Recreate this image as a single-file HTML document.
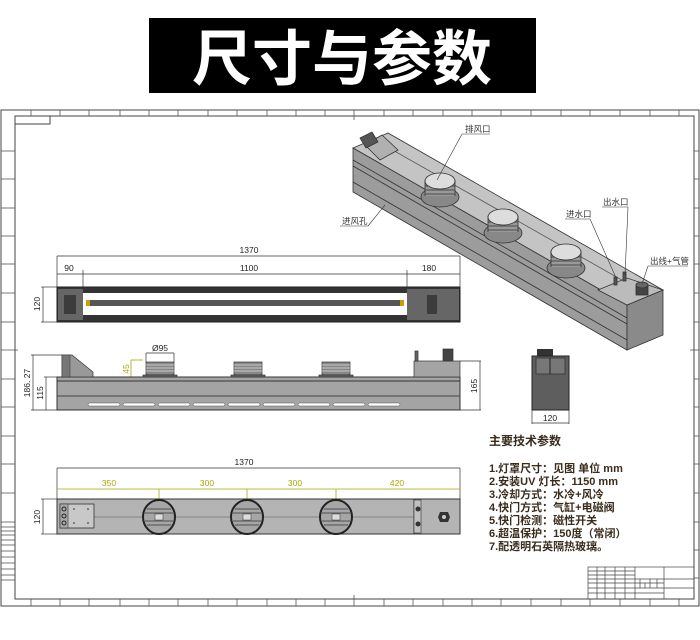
<!DOCTYPE html>
<html><head><meta charset="utf-8"><style>
html,body{margin:0;padding:0;background:#fff;width:700px;height:640px;overflow:hidden}
svg{display:block}
text{font-family:"Liberation Sans","Noto Sans CJK SC",sans-serif}
.d{font-size:8.5px;fill:#222}
.cn{font-family:"Liberation Sans","Noto Sans CJK SC",sans-serif;font-size:11px;font-weight:bold;fill:#3a2c1c}
.ln{stroke:#333;stroke-width:0.7;fill:none}
.yl{stroke:#a8a800;stroke-width:0.8;fill:none}
</style></head><body>
<svg width="700" height="640" viewBox="0 0 700 640" xmlns="http://www.w3.org/2000/svg">
<rect x="149" y="18" width="387" height="75" fill="#000"/>
<text x="342" y="80" text-anchor="middle" font-size="60" font-weight="bold" fill="#fff" style="font-family:'Noto Sans CJK SC',sans-serif">尺寸与参数</text>

<g stroke="#444" fill="none" stroke-width="1">
<rect x="1" y="110" width="698" height="496"/>
<rect x="15" y="116" width="679" height="483"/>
<rect x="15" y="116" width="35" height="8"/>
</g>
<g stroke="#555" stroke-width="0.8">
<line x1="31" y1="110" x2="31" y2="116"/><line x1="60" y1="110" x2="60" y2="116"/><line x1="89" y1="110" x2="89" y2="116"/><line x1="120" y1="110" x2="120" y2="116"/><line x1="149" y1="110" x2="149" y2="116"/><line x1="178" y1="110" x2="178" y2="116"/><line x1="208" y1="110" x2="208" y2="116"/><line x1="237" y1="110" x2="237" y2="116"/><line x1="267" y1="110" x2="267" y2="116"/><line x1="296" y1="110" x2="296" y2="116"/><line x1="325" y1="110" x2="325" y2="116"/><line x1="354" y1="110" x2="354" y2="120"/><line x1="384" y1="110" x2="384" y2="116"/><line x1="413" y1="110" x2="413" y2="116"/><line x1="443" y1="110" x2="443" y2="116"/><line x1="472" y1="110" x2="472" y2="116"/><line x1="501" y1="110" x2="501" y2="116"/><line x1="531" y1="110" x2="531" y2="116"/><line x1="561" y1="110" x2="561" y2="116"/><line x1="590" y1="110" x2="590" y2="116"/><line x1="620" y1="110" x2="620" y2="116"/><line x1="650" y1="110" x2="650" y2="116"/><line x1="679" y1="110" x2="679" y2="116"/>
<line x1="31" y1="599" x2="31" y2="606"/><line x1="60" y1="599" x2="60" y2="606"/><line x1="89" y1="599" x2="89" y2="606"/><line x1="120" y1="599" x2="120" y2="606"/><line x1="149" y1="599" x2="149" y2="606"/><line x1="178" y1="599" x2="178" y2="606"/><line x1="208" y1="599" x2="208" y2="606"/><line x1="237" y1="599" x2="237" y2="606"/><line x1="267" y1="599" x2="267" y2="606"/><line x1="296" y1="599" x2="296" y2="606"/><line x1="325" y1="599" x2="325" y2="606"/><line x1="354" y1="595" x2="354" y2="606"/><line x1="384" y1="599" x2="384" y2="606"/><line x1="413" y1="599" x2="413" y2="606"/><line x1="443" y1="599" x2="443" y2="606"/><line x1="472" y1="599" x2="472" y2="606"/><line x1="501" y1="599" x2="501" y2="606"/><line x1="531" y1="599" x2="531" y2="606"/><line x1="561" y1="599" x2="561" y2="606"/><line x1="590" y1="599" x2="590" y2="606"/><line x1="620" y1="599" x2="620" y2="606"/><line x1="650" y1="599" x2="650" y2="606"/><line x1="679" y1="599" x2="679" y2="606"/>
<line x1="1" y1="151" x2="15" y2="151"/><line x1="1" y1="179" x2="15" y2="179"/><line x1="1" y1="208" x2="15" y2="208"/><line x1="1" y1="236" x2="15" y2="236"/><line x1="1" y1="264" x2="15" y2="264"/><line x1="1" y1="293" x2="15" y2="293"/><line x1="1" y1="322" x2="15" y2="322"/><line x1="1" y1="350" x2="18" y2="350"/><line x1="1" y1="379" x2="15" y2="379"/><line x1="1" y1="407" x2="15" y2="407"/><line x1="1" y1="436" x2="15" y2="436"/><line x1="1" y1="464" x2="15" y2="464"/><line x1="1" y1="493" x2="15" y2="493"/>
<line x1="1" y1="522" x2="15" y2="522"/><line x1="1" y1="527" x2="15" y2="527"/><line x1="1" y1="531" x2="15" y2="531"/><line x1="1" y1="535" x2="15" y2="535"/><line x1="1" y1="540" x2="15" y2="540"/><line x1="1" y1="545" x2="15" y2="545"/><line x1="1" y1="551" x2="15" y2="551"/><line x1="1" y1="557" x2="15" y2="557"/><line x1="1" y1="563" x2="15" y2="563"/><line x1="1" y1="569" x2="15" y2="569"/><line x1="1" y1="575" x2="15" y2="575"/><line x1="1" y1="580" x2="15" y2="580"/>
<line x1="694" y1="151" x2="699" y2="151"/><line x1="694" y1="179" x2="699" y2="179"/><line x1="694" y1="208" x2="699" y2="208"/><line x1="694" y1="236" x2="699" y2="236"/><line x1="694" y1="264" x2="699" y2="264"/><line x1="694" y1="293" x2="699" y2="293"/><line x1="694" y1="322" x2="699" y2="322"/><line x1="690" y1="350" x2="699" y2="350"/><line x1="694" y1="379" x2="699" y2="379"/><line x1="694" y1="407" x2="699" y2="407"/><line x1="694" y1="436" x2="699" y2="436"/><line x1="694" y1="464" x2="699" y2="464"/><line x1="694" y1="493" x2="699" y2="493"/><line x1="694" y1="522" x2="699" y2="522"/><line x1="694" y1="550" x2="699" y2="550"/><line x1="694" y1="578" x2="699" y2="578"/>
</g>

<g stroke="#444" stroke-width="0.7" fill="none">
<rect x="588" y="567" width="106" height="32"/>
<line x1="597" y1="567" x2="597" y2="599"/><line x1="605" y1="567" x2="605" y2="599"/><line x1="615" y1="567" x2="615" y2="599"/><line x1="625" y1="567" x2="625" y2="599"/><line x1="635" y1="567" x2="635" y2="599"/><line x1="664" y1="567" x2="664" y2="599"/>
<line x1="588" y1="571" x2="635" y2="571"/><line x1="588" y1="575" x2="635" y2="575"/><line x1="588" y1="579" x2="694" y2="579"/><line x1="588" y1="583" x2="664" y2="583"/><line x1="588" y1="588" x2="694" y2="588"/><line x1="588" y1="593" x2="664" y2="593"/>
<line x1="640" y1="579" x2="640" y2="588"/><line x1="645" y1="583" x2="645" y2="588"/><line x1="650" y1="579" x2="650" y2="588"/><line x1="657" y1="579" x2="657" y2="588"/>
</g>

<g stroke="#333" stroke-width="0.8">
<polygon points="353,148 388,133 663,290 627,305" fill="#c4c4c4"/>
<polygon points="353,148 627,305 627,350 353,192" fill="#9c9c9c"/>
<polygon points="627,305 663,290 663,335 627,350" fill="#8a8a8a"/>
<line x1="353" y1="160" x2="627" y2="318"/>
<line x1="353" y1="166" x2="627" y2="324"/>
<line x1="353" y1="182" x2="627" y2="340"/>
<line x1="375" y1="140" x2="650" y2="296" stroke="#555"/>
<polygon points="598,290 627,278 663,290 627,305" fill="#bbb"/>
<polygon points="365,145 382,135 398,150 380,160" fill="#b0b0b0"/>
<polygon points="360,138 372,132 378,142 366,148" fill="#555"/>
</g>
<g stroke="#333" stroke-width="0.8">
<ellipse cx="440" cy="197" rx="19" ry="10" fill="#888"/>
<rect x="425" y="182" width="30" height="14" fill="#999" stroke="none"/>
<line x1="425" y1="186" x2="455" y2="186"/><line x1="425" y1="190" x2="455" y2="190"/><line x1="425" y1="194" x2="455" y2="194"/>
<line x1="425" y1="180" x2="425" y2="196"/><line x1="455" y1="180" x2="455" y2="196"/>
<ellipse cx="440" cy="181" rx="15" ry="8" fill="#ddd"/>
<ellipse cx="503" cy="233" rx="19" ry="10" fill="#888"/>
<rect x="488" y="218" width="30" height="14" fill="#999" stroke="none"/>
<line x1="488" y1="222" x2="518" y2="222"/><line x1="488" y1="226" x2="518" y2="226"/><line x1="488" y1="230" x2="518" y2="230"/>
<line x1="488" y1="216" x2="488" y2="232"/><line x1="518" y1="216" x2="518" y2="232"/>
<ellipse cx="503" cy="217" rx="15" ry="8" fill="#ddd"/>
<ellipse cx="566" cy="268" rx="19" ry="10" fill="#888"/>
<rect x="551" y="253" width="30" height="14" fill="#999" stroke="none"/>
<line x1="551" y1="257" x2="581" y2="257"/><line x1="551" y1="261" x2="581" y2="261"/><line x1="551" y1="265" x2="581" y2="265"/>
<line x1="551" y1="251" x2="551" y2="267"/><line x1="581" y1="251" x2="581" y2="267"/>
<ellipse cx="566" cy="252" rx="15" ry="8" fill="#ddd"/>
<rect x="636" y="285" width="12" height="10" fill="#444"/>
<ellipse cx="642" cy="285" rx="6" ry="3" fill="#666"/>
<rect x="614" y="277" width="3" height="8" fill="#555"/>
<rect x="623" y="272" width="3" height="9" fill="#555"/>
</g>
<g stroke="#333" stroke-width="0.6" fill="none">
<polyline points="462,134 490,134"/><line x1="462" y1="134" x2="437" y2="180"/>
<polyline points="340,226 368,226"/><line x1="368" y1="226" x2="385" y2="205"/>
<polyline points="565,219 590,219"/><line x1="590" y1="219" x2="617" y2="280"/>
<polyline points="602,207 628,207"/><line x1="628" y1="207" x2="625" y2="275"/>
<polyline points="648,266 688,266"/><line x1="648" y1="266" x2="642" y2="284"/>
</g>
<g font-size="8.5" fill="#333" style="font-family:'Noto Sans CJK SC',sans-serif">
<text x="465" y="132">排风口</text>
<text x="342" y="224">进风孔</text>
<text x="566" y="217">进水口</text>
<text x="603" y="205">出水口</text>
<text x="650" y="264">出线+气管</text>
</g>

<g class="ln">
<line x1="57" y1="256" x2="460" y2="256"/><line x1="57" y1="256" x2="57" y2="287"/><line x1="460" y1="256" x2="460" y2="287"/>
<line x1="57" y1="274" x2="460" y2="274"/><line x1="83" y1="270" x2="83" y2="293"/><line x1="407" y1="270" x2="407" y2="293"/>
<line x1="41" y1="287" x2="57" y2="287"/><line x1="41" y1="322" x2="57" y2="322"/><line x1="43" y1="287" x2="43" y2="322"/>
</g>
<text class="d" x="249" y="253" text-anchor="middle">1370</text>
<text class="d" x="69" y="271" text-anchor="middle">90</text>
<text class="d" x="249" y="271" text-anchor="middle">1100</text>
<text class="d" x="429" y="271" text-anchor="middle">180</text>
<text class="d" transform="translate(40,304) rotate(-90)" text-anchor="middle">120</text>
<rect x="57" y="287" width="403" height="35" fill="#333" stroke="#222"/>
<rect x="58" y="289" width="25" height="31" fill="#666"/>
<rect x="407" y="289" width="52" height="31" fill="#666"/>
<rect x="83" y="293" width="324" height="22" fill="#fff"/>
<rect x="86" y="300" width="318" height="6" fill="#555"/>
<rect x="86" y="300" width="4" height="6" fill="#c9a000"/><rect x="400" y="300" width="4" height="6" fill="#c9a000"/>
<g stroke="#111" stroke-width="1">
<line x1="65" y1="295" x2="65" y2="314"/><line x1="67" y1="295" x2="67" y2="314"/><line x1="69" y1="295" x2="69" y2="314"/><line x1="71" y1="295" x2="71" y2="314"/><line x1="73" y1="295" x2="73" y2="314"/><line x1="75" y1="295" x2="75" y2="314"/>
<line x1="428" y1="295" x2="428" y2="314"/><line x1="430" y1="295" x2="430" y2="314"/><line x1="432" y1="295" x2="432" y2="314"/><line x1="434" y1="295" x2="434" y2="314"/><line x1="436" y1="295" x2="436" y2="314"/>
</g>

<g class="ln">
<line x1="31" y1="355" x2="62" y2="355"/><line x1="31" y1="410" x2="57" y2="410"/><line x1="33" y1="355" x2="33" y2="410"/>
<line x1="44" y1="377" x2="57" y2="377"/><line x1="46" y1="377" x2="46" y2="410"/>
<line x1="460" y1="361" x2="481" y2="361"/><line x1="460" y1="410" x2="481" y2="410"/><line x1="480" y1="361" x2="480" y2="410"/>
<line x1="146" y1="353" x2="174" y2="353"/><line x1="146" y1="353" x2="146" y2="362"/><line x1="174" y1="353" x2="174" y2="362"/>
</g>
<g class="yl"><line x1="131" y1="360" x2="131" y2="378"/><line x1="131" y1="360" x2="143" y2="360"/></g>
<text class="d" transform="translate(30,383) rotate(-90)" text-anchor="middle">186. 27</text>
<text class="d" transform="translate(43,393) rotate(-90)" text-anchor="middle">115</text>
<text class="d" transform="translate(477,386) rotate(-90)" text-anchor="middle">165</text>
<text class="d" x="160" y="351" text-anchor="middle">Ø95</text>
<text class="d" transform="translate(129,369) rotate(-90)" text-anchor="middle" style="fill:#a8a800">45</text>
<rect x="57" y="377" width="403" height="33" fill="#a4a4a4" stroke="#333"/>
<line x1="57" y1="381" x2="460" y2="381" stroke="#333"/>
<line x1="57" y1="396" x2="460" y2="396" stroke="#444"/>
<g fill="#fff" stroke="#555" stroke-width="0.5">
<rect x="88" y="403" width="32" height="3" rx="1.5"/><rect x="123" y="403" width="32" height="3" rx="1.5"/><rect x="158" y="403" width="32" height="3" rx="1.5"/><rect x="193" y="403" width="32" height="3" rx="1.5"/><rect x="228" y="403" width="32" height="3" rx="1.5"/><rect x="263" y="403" width="32" height="3" rx="1.5"/><rect x="298" y="403" width="32" height="3" rx="1.5"/><rect x="333" y="403" width="32" height="3" rx="1.5"/><rect x="368" y="403" width="32" height="3" rx="1.5"/>
</g>
<polygon points="62,355 72,355 93,372 93,377 62,377" fill="#999" stroke="#333" stroke-width="0.7"/>
<rect x="62" y="355" width="8" height="22" fill="#777" stroke="#333" stroke-width="0.5"/>
<g stroke="#333" stroke-width="0.7">
<rect x="146" y="362" width="28" height="13" fill="#888"/>
<line x1="146" y1="365" x2="174" y2="365" stroke="#ddd"/><line x1="146" y1="368" x2="174" y2="368" stroke="#ddd"/><line x1="146" y1="371" x2="174" y2="371" stroke="#ddd"/>
<rect x="143" y="375" width="34" height="2" fill="#666"/>
<rect x="234" y="362" width="28" height="13" fill="#888"/>
<line x1="234" y1="365" x2="262" y2="365" stroke="#ddd"/><line x1="234" y1="368" x2="262" y2="368" stroke="#ddd"/><line x1="234" y1="371" x2="262" y2="371" stroke="#ddd"/>
<rect x="231" y="375" width="34" height="2" fill="#666"/>
<rect x="322" y="362" width="28" height="13" fill="#888"/>
<line x1="322" y1="365" x2="350" y2="365" stroke="#ddd"/><line x1="322" y1="368" x2="350" y2="368" stroke="#ddd"/><line x1="322" y1="371" x2="350" y2="371" stroke="#ddd"/>
<rect x="319" y="375" width="34" height="2" fill="#666"/>
<rect x="414" y="361" width="46" height="16" fill="#a4a4a4"/>
<rect x="443" y="349" width="10" height="12" fill="#444"/>
<rect x="415" y="351" width="3" height="10" fill="#666"/>
</g>

<rect x="537" y="349" width="16" height="8" fill="#333"/>
<rect x="532" y="356" width="37" height="54" fill="#5e5e5e" stroke="#222"/>
<rect x="536" y="358" width="29" height="16" fill="#777" stroke="#222" stroke-width="0.6"/>
<line x1="550" y1="358" x2="550" y2="374" stroke="#222"/>
<g class="ln"><line x1="532" y1="410" x2="532" y2="424"/><line x1="569" y1="410" x2="569" y2="424"/><line x1="532" y1="423" x2="569" y2="423"/></g>
<text class="d" x="550" y="421" text-anchor="middle">120</text>

<text x="489" y="445" font-size="12" font-weight="bold" fill="#3a2c1c" style="font-family:'Noto Sans CJK SC',sans-serif">主要技术参数</text>
<g class="cn">
<text x="489" y="472">1.灯罩尺寸：见图 单位 mm</text>
<text x="489" y="485">2.安装UV 灯长：1150 mm</text>
<text x="489" y="498">3.冷却方式：水冷+风冷</text>
<text x="489" y="511">4.快门方式：气缸+电磁阀</text>
<text x="489" y="524">5.快门检测：磁性开关</text>
<text x="489" y="537">6.超温保护：150度（常闭）</text>
<text x="489" y="550">7.配透明石英隔热玻璃。</text>
</g>

<g class="ln">
<line x1="57" y1="468" x2="460" y2="468"/><line x1="57" y1="468" x2="57" y2="499"/><line x1="460" y1="468" x2="460" y2="499"/>
<line x1="41" y1="499" x2="57" y2="499"/><line x1="41" y1="534" x2="57" y2="534"/><line x1="43" y1="499" x2="43" y2="534"/>
</g>
<g class="yl">
<line x1="57" y1="489" x2="460" y2="489"/>
<line x1="159" y1="489" x2="159" y2="517"/><line x1="247" y1="489" x2="247" y2="517"/><line x1="336" y1="489" x2="336" y2="517"/>
</g>
<text class="d" x="244" y="465" text-anchor="middle">1370</text>
<g class="d" style="fill:#a8a800">
<text x="109" y="486" text-anchor="middle">350</text>
<text x="207" y="486" text-anchor="middle">300</text>
<text x="295" y="486" text-anchor="middle">300</text>
<text x="397" y="486" text-anchor="middle">420</text>
</g>
<text class="d" transform="translate(40,517) rotate(-90)" text-anchor="middle">120</text>
<rect x="57" y="499" width="403" height="35" fill="#b4b4b4" stroke="#333"/>
<line x1="94" y1="517" x2="414" y2="517" stroke="#555" stroke-width="0.6"/>
<line x1="414" y1="499" x2="414" y2="534" stroke="#333"/>
<rect x="60" y="504" width="34" height="24" fill="#c8c8c8" stroke="#333" stroke-width="0.8"/>
<rect x="60" y="504" width="8" height="24" fill="#aaa" stroke="#333" stroke-width="0.6"/>
<circle cx="64" cy="509" r="2" fill="none" stroke="#222"/><circle cx="64" cy="516" r="2" fill="none" stroke="#222"/><circle cx="64" cy="523" r="2" fill="none" stroke="#222"/>
<circle cx="74" cy="509" r="0.8" fill="#222"/><circle cx="88" cy="509" r="0.8" fill="#222"/><circle cx="74" cy="523" r="0.8" fill="#222"/><circle cx="88" cy="523" r="0.8" fill="#222"/>
<g stroke="#222" stroke-width="2" fill="#a6a6a6">
<ellipse cx="159" cy="517" rx="16" ry="17"/>
<ellipse cx="247" cy="517" rx="16" ry="17"/>
<ellipse cx="336" cy="517" rx="16" ry="17"/>
</g>
<g stroke="#333" stroke-width="0.7">
<line x1="147" y1="509" x2="171" y2="509"/><line x1="145" y1="513" x2="173" y2="513"/><line x1="145" y1="521" x2="173" y2="521"/><line x1="147" y1="525" x2="171" y2="525"/>
<line x1="235" y1="509" x2="259" y2="509"/><line x1="233" y1="513" x2="261" y2="513"/><line x1="233" y1="521" x2="261" y2="521"/><line x1="235" y1="525" x2="259" y2="525"/>
<line x1="324" y1="509" x2="348" y2="509"/><line x1="322" y1="513" x2="350" y2="513"/><line x1="322" y1="521" x2="350" y2="521"/><line x1="324" y1="525" x2="348" y2="525"/>
</g>
<rect x="155" y="514" width="8" height="6" fill="#ddd" stroke="#333" stroke-width="0.5"/>
<rect x="243" y="514" width="8" height="6" fill="#ddd" stroke="#333" stroke-width="0.5"/>
<rect x="332" y="514" width="8" height="6" fill="#ddd" stroke="#333" stroke-width="0.5"/>
<rect x="414" y="500" width="7" height="33" fill="#c0c0c0" stroke="#333" stroke-width="0.6"/>
<circle cx="418" cy="509" r="2.5" fill="#333"/><circle cx="418" cy="524" r="2.5" fill="#333"/>
<polygon points="440,512 448,512 450,517 448,522 440,522 438,517" fill="#333"/>
<circle cx="444" cy="517" r="2" fill="#ccc"/>
</svg>
</body></html>
